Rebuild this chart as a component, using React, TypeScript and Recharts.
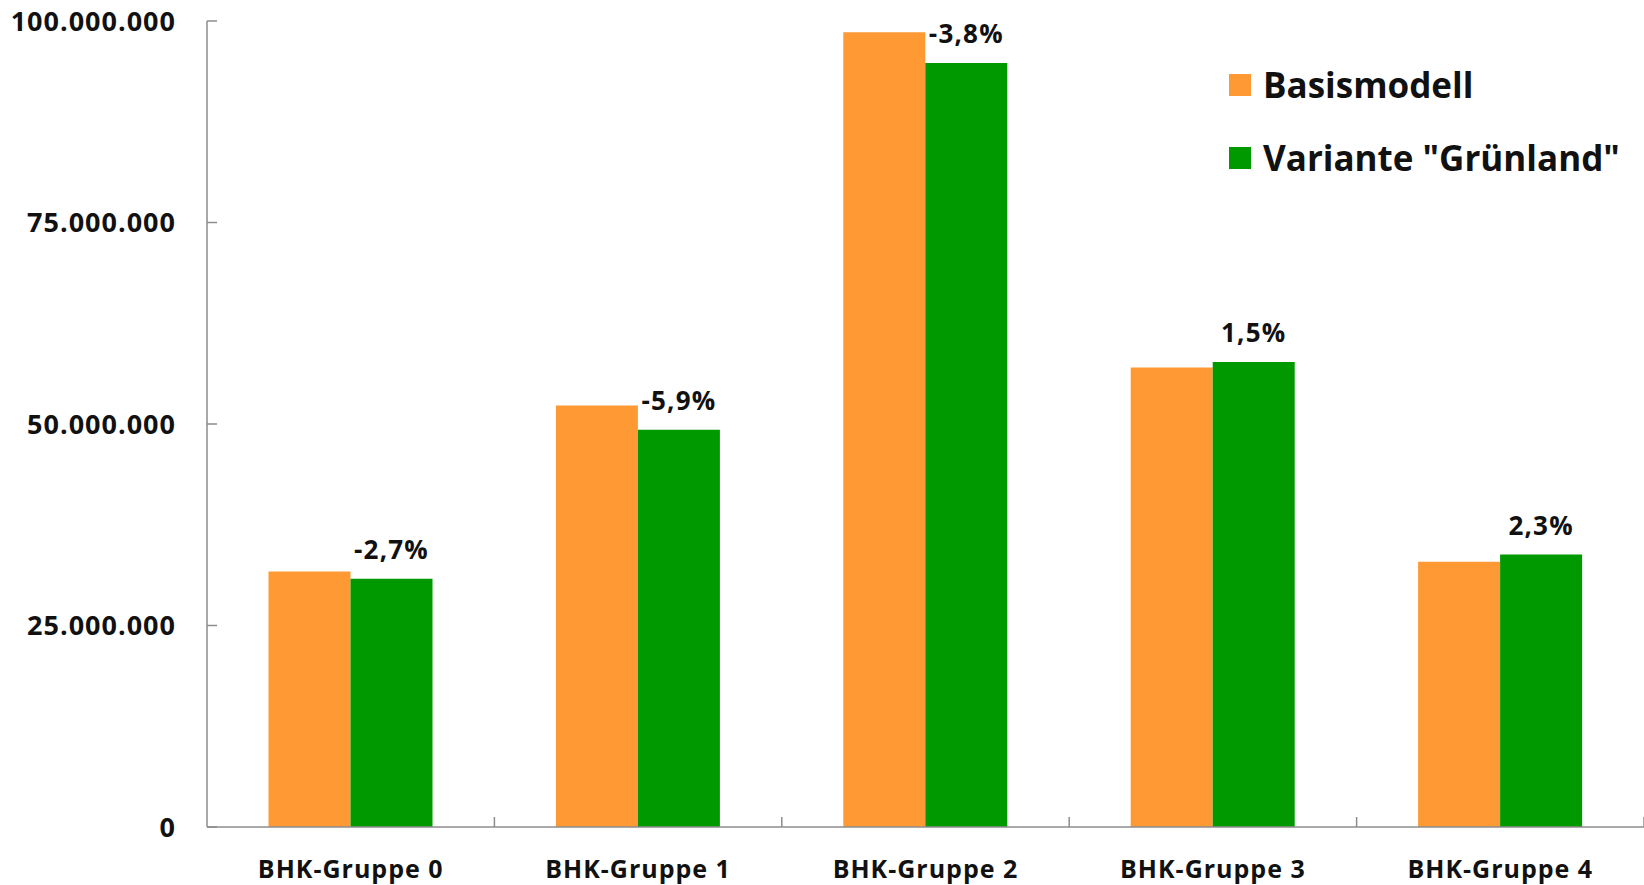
import React from 'react';
import { BarChart, Bar, XAxis, YAxis, LabelList, Legend } from 'recharts';

const categories = ['BHK-Gruppe 0', 'BHK-Gruppe 1', 'BHK-Gruppe 2', 'BHK-Gruppe 3', 'BHK-Gruppe 4'];
const basismodell = [31700000, 52300000, 98600000, 57000000, 32900000];
const gruenland = [30800000, 49300000, 94800000, 57700000, 33800000];
const changes = ['-2,7%', '-5,9%', '-3,8%', '1,5%', '2,3%'];
const yTicks = [0, 25000000, 50000000, 75000000, 100000000];
const seriesNames = ['Basismodell', 'Variante "Grünland"'];
const seriesColors = ['#FF9933', '#009900'];

const data = categories.map((c, i) => ({
  name: c,
  basis: basismodell[i],
  gruen: gruenland[i],
  change: changes[i],
}));

const FONT = '"Open Sans", sans-serif';
const AXIS = '#8c8c8c';

const fmt = (v: number) => String(v).replace(/\B(?=(\d{3})+(?!\d))/g, '.');

const YTick = (props: any) => {
  const { x, y, payload } = props;
  return (
    <g>
      <line x1={x} y1={y} x2={x + 10} y2={y} stroke={AXIS} strokeWidth={1.5} />
      <text x={x - 31} y={y} dy="0.36em" textAnchor="end" fontFamily={FONT} fontWeight={700} fontSize={27} letterSpacing={1} fill="#111">
        {fmt(payload.value)}
      </text>
    </g>
  );
};

const XTick = (props: any) => {
  const { x, y, payload } = props;
  const off = payload.offset || 0;
  return (
    <g>
      <line x1={x + off} y1={y} x2={x + off} y2={y - 10} stroke={AXIS} strokeWidth={1.5} />
      <text x={x} y={y + 42} dy="0.36em" textAnchor="middle" fontFamily={FONT} fontWeight={700} fontSize={25} letterSpacing={1} fill="#111">
        {payload.value}
      </text>
    </g>
  );
};

const ChangeLabel = (props: any) => {
  const { x, y, width, index } = props;
  return (
    <text x={x + width / 2} y={y - 20} textAnchor="middle" fontFamily={FONT} fontWeight={700} fontSize={26} letterSpacing={1.2} fill="#111">
      {changes[index]}
    </text>
  );
};

const renderLegend = () => (
  <div style={{ fontFamily: FONT, fontWeight: 700, fontSize: 35, color: '#111' }}>
    {seriesNames.map((n, i) => (
      <div key={n} style={{ display: 'flex', alignItems: 'center', height: 40, marginBottom: i === 0 ? 33 : 0 }}>
        <span style={{ display: 'inline-block', width: 22, height: 22, background: seriesColors[i], marginRight: 12 }} />
        <span style={{ lineHeight: '40px' }}>{n}</span>
      </div>
    ))}
  </div>
);

export default function App() {
  return (
    <div style={{ position: 'absolute', left: 0, top: 0, width: 1644, height: 885, background: '#fff' }}>
      <BarChart
        width={1644}
        height={885}
        data={data}
        margin={{ top: 21, right: 0, bottom: 0, left: 0 }}
        barCategoryGap="21.4%"
        barGap={0}
      >
        <XAxis
          dataKey="name"
          height={58}
          axisLine={{ stroke: AXIS, strokeWidth: 1.5 }}
          tickLine={false}
          tickSize={0}
          tickMargin={0}
          tick={<XTick />}
          interval={0}
        />
        <YAxis
          width={207}
          domain={[0, 100000000]}
          ticks={yTicks}
          axisLine={{ stroke: AXIS, strokeWidth: 1.5 }}
          tickLine={false}
          tickSize={0}
          tickMargin={0}
          tick={<YTick />}
          interval={0}
        />
        <Legend
          layout="horizontal"
          verticalAlign="middle"
          content={renderLegend}
          wrapperStyle={{ position: 'absolute', top: 65, left: 1229, width: 415, height: 120 }}
        />
        <Bar dataKey="basis" name={seriesNames[0]} fill={seriesColors[0]} isAnimationActive={false} />
        <Bar dataKey="gruen" name={seriesNames[1]} fill={seriesColors[1]} isAnimationActive={false}>
          <LabelList dataKey="change" content={<ChangeLabel />} />
        </Bar>
      </BarChart>
    </div>
  );
}
